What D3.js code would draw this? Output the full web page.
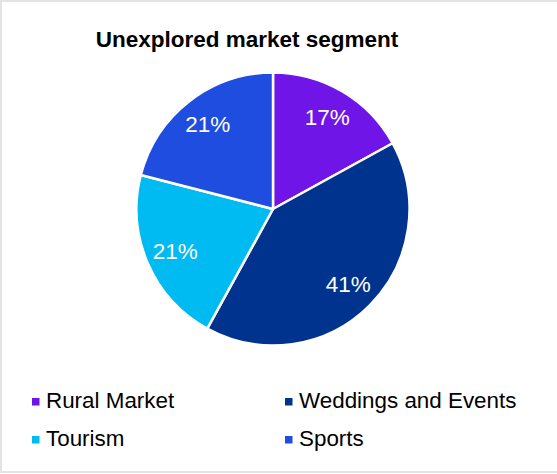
<!DOCTYPE html>
<html>
<head>
<meta charset="utf-8">
<script src="https://cdn.jsdelivr.net/npm/d3@7"></script>
<style>
  html, body { margin: 0; padding: 0; background: #fff; }
  svg { display: block; font-family: "Liberation Sans", Arial, sans-serif; }
</style>
</head>
<body>
<svg id="chart" width="557" height="474"></svg>
<script>
// Share of each unexplored market segment (percent)
const categories = ["Rural Market", "Weddings and Events", "Tourism", "Sports"];
const shares = [17, 41, 21, 21];
const colors = ["#7015E8", "#00338D", "#00BAF2", "#1F4DE0"];
const title = "Unexplored market segment";

const svg = d3.select("#chart");
const W = 557, H = 474;

// outer frame
svg.append("rect")
  .attr("x", 1).attr("y", 1)
  .attr("width", W + 2).attr("height", H - 3)
  .attr("fill", "#fff")
  .attr("stroke", "#e3e3e3").attr("stroke-width", 2);

svg.append("text")
  .attr("x", 247).attr("y", 47)
  .attr("text-anchor", "middle")
  .attr("font-size", 22.5).attr("font-weight", "bold")
  .attr("fill", "#000")
  .text(title);

const cx = 273, cy = 209, r = 136.5;
const data = categories.map((c, i) => ({ name: c, value: shares[i], color: colors[i] }));

const pie = d3.pie().value(d => d.value).sort(null);
const arc = d3.arc().innerRadius(0).outerRadius(r);
const labelArc = d3.arc().innerRadius(r * 0.78).outerRadius(r * 0.78);
const color = d3.scaleOrdinal().domain(categories).range(colors);

const g = svg.append("g").attr("transform", `translate(${cx},${cy})`);
const arcs = pie(data);

g.selectAll("path.slice")
  .data(arcs)
  .join("path")
  .attr("class", "slice")
  .attr("d", arc)
  .attr("fill", d => color(d.data.name))
  .attr("stroke", "#fff")
  .attr("stroke-width", 2.5)
  .attr("stroke-linejoin", "round");

g.selectAll("text.val")
  .data(arcs)
  .join("text")
  .attr("class", "val")
  .attr("transform", d => `translate(${labelArc.centroid(d)})`)
  .attr("text-anchor", "middle")
  .attr("dy", "0.33em")
  .attr("font-size", 22.5)
  .attr("fill", "#fff")
  .text(d => d3.format(".0f")(d.data.value) + "%");

// legend in two columns
const legendCols = [32, 285];
const legendRows = [408, 446];
const legend = svg.append("g");
const items = legend.selectAll("g.item")
  .data(data)
  .join("g")
  .attr("class", "item")
  .attr("transform", (d, i) => `translate(${legendCols[i % 2]},${legendRows[Math.floor(i / 2)]})`);

items.append("rect")
  .attr("x", 0).attr("y", -10)
  .attr("width", 7.5).attr("height", 7.5)
  .attr("fill", d => color(d.name));

items.append("text")
  .attr("x", 14).attr("y", 0)
  .attr("font-size", 22.4)
  .attr("fill", "#000")
  .text(d => d.name);
</script>
</body>
</html>
